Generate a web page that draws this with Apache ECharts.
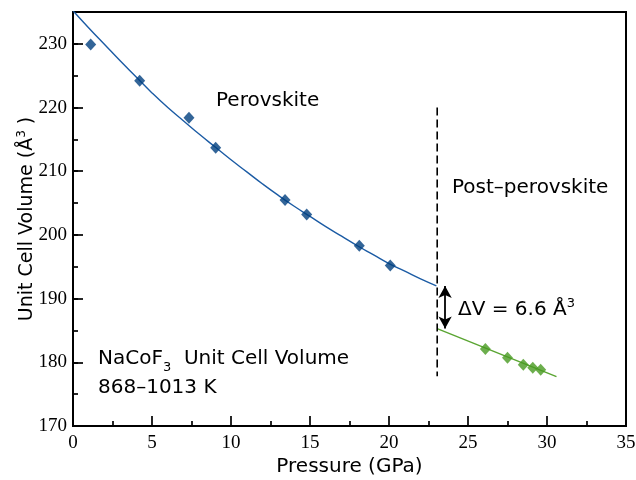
<!DOCTYPE html>
<html>
<head>
<meta charset="utf-8">
<script src="https://cdn.jsdelivr.net/npm/echarts@6/dist/echarts.min.js"></script>
<style>html,body{margin:0;padding:0;background:#fff;}#c{width:636px;height:480px;}</style>
</head>
<body>
<div id="c"></div>
<script>
// Perovskite data points (P GPa, V Å^3)
var perovP = [1.12, 4.22, 7.34, 9.03, 13.42, 14.79, 18.12, 20.08];
var perovV = [229.9, 224.2, 218.4, 213.7, 205.5, 203.2, 198.3, 195.2];
// Post-perovskite data points
var postP = [26.1, 27.5, 28.5, 29.1, 29.6];
var postV = [182.1, 180.7, 179.6, 179.15, 178.85];
// EOS fit curve for perovskite
var fitP = [0,1,2,3,4,5,6,7,8,9,10,11,12,13,14,15,16,17,18,19,20,21,22,23];
var fitV = [235.2,232.5,229.9,227.3,224.8,222.3,220.0,217.9,215.8,213.8,211.8,209.9,208.0,206.2,204.5,202.9,201.3,199.8,198.3,196.9,195.5,194.3,193.1,192.0];
// Post-perovskite fit line
var fit2P = [23.05, 30.6];
var fit2V = [185.3, 177.75];
// Transition marker
var transP = 23.05;
var transV = [220, 177.8];
var arrowP = 23.55;
var arrowV = [192.0, 185.3];
// Axes
var xTicks = {min: 0, max: 35, interval: 5};
var yTicks = {min: 170, max: 235, interval: 10};

function zip(a, b) { return a.map(function (v, i) { return [v, b[i]]; }); }

var chart = echarts.init(document.getElementById('c'), null, {renderer: 'canvas'});
var sans = 'DejaVu Sans';
var serif = 'Liberation Serif';

chart.setOption({
  animation: false,
  backgroundColor: '#fff',
  grid: {left: 73, right: 10, top: 12, bottom: 54, outerBoundsMode: 'none', containLabel: false,
    show: true, borderColor: '#000', borderWidth: 2, backgroundColor: 'transparent'},
  xAxis: {
    type: 'value', min: xTicks.min, max: xTicks.max, interval: xTicks.interval,
    name: 'Pressure (GPa)', nameLocation: 'middle', nameGap: 31, nameMoveOverlap: false,
    nameTextStyle: {fontFamily: sans, fontSize: 20, color: '#000'},
    axisLine: {onZero: false, lineStyle: {color: '#000', width: 2}},
    axisTick: {inside: true, length: 10, lineStyle: {color: '#000', width: 1.7}},
    minorTick: {show: true, splitNumber: 2, length: 5, lineStyle: {color: '#000', width: 1.7}},
    axisLabel: {fontFamily: serif, fontSize: 19, color: '#000', margin: 8},
    splitLine: {show: false}
  },
  yAxis: [{
    type: 'value', min: yTicks.min, max: yTicks.max, interval: yTicks.interval,
    name: 'Unit Cell Volume (Å{sup|3} )', nameLocation: 'middle', nameGap: 35, nameMoveOverlap: false,
    nameTextStyle: {fontFamily: sans, fontSize: 19, color: '#000', lineHeight: 22,
      rich: {sup: {fontFamily: sans, fontSize: 12, color: '#000', verticalAlign: 'top', lineHeight: 22}}},
    axisLine: {onZero: false, lineStyle: {color: '#000', width: 2}},
    axisTick: {inside: true, length: 10, lineStyle: {color: '#000', width: 1.7}},
    axisLabel: {fontFamily: serif, fontSize: 19, color: '#000', margin: 6, showMaxLabel: false},
    splitLine: {show: false}
  }, {
    type: 'value', min: yTicks.min, max: yTicks.max, interval: yTicks.interval / 2,
    position: 'left', offset: 0,
    axisLine: {show: false},
    axisTick: {inside: true, length: 5, lineStyle: {color: '#000', width: 1.7}},
    axisLabel: {show: false},
    splitLine: {show: false}
  }],
  series: [
    {type: 'line', data: zip(fitP, fitV), smooth: true, symbol: 'none',
      lineStyle: {color: '#1b5ba4', width: 1.4}, z: 2},
    {type: 'line', data: zip(fit2P, fit2V), symbol: 'none',
      lineStyle: {color: '#5aa532', width: 1.4}, z: 2},
    {type: 'line', data: zip([transP, transP], transV), symbol: 'none',
      lineStyle: {color: '#000', width: 1.6, type: [8, 4]}, z: 3,
      markLine: {silent: true, symbol: ['arrow', 'arrow'], symbolSize: [10, 12],
        label: {show: false}, lineStyle: {color: '#000', width: 1.8, type: 'solid'},
        data: [[{coord: [arrowP, arrowV[0]]}, {coord: [arrowP, arrowV[1]]}]]}},
    {type: 'scatter', data: zip(perovP, perovV), symbol: 'diamond', symbolSize: [11, 12],
      itemStyle: {color: '#003e7e'}, z: 4},
    {type: 'scatter', data: zip(postP, postV), symbol: 'diamond', symbolSize: [11, 12],
      itemStyle: {color: '#479a20'}, z: 4}
  ],
  graphic: [
    {type: 'text', left: 216, top: 91, style: {text: 'Perovskite', fill: '#000', font: '20px "DejaVu Sans"'}},
    {type: 'text', left: 452, top: 178, style: {text: 'Post–perovskite', fill: '#000', font: '20px "DejaVu Sans"'}},
    {type: 'text', left: 458, top: 297, style: {text: 'ΔV = 6.6 Å{sup|3}', fill: '#000', font: '20px "DejaVu Sans"', lineHeight: 26,
      rich: {sup: {font: '13px "DejaVu Sans"', fill: '#000', verticalAlign: 'top', lineHeight: 26}}}},
    {type: 'text', left: 98, top: 344, style: {text: 'NaCoF{sub|3}  Unit Cell Volume', fill: '#000', font: '20px "DejaVu Sans"', lineHeight: 22,
      rich: {sub: {font: '13px "DejaVu Sans"', fill: '#000', verticalAlign: 'bottom', lineHeight: 30}}}},
    {type: 'text', left: 98, top: 378, style: {text: '868–1013 K', fill: '#000', font: '20px "DejaVu Sans"'}}
  ]
});
</script>
</body>
</html>
